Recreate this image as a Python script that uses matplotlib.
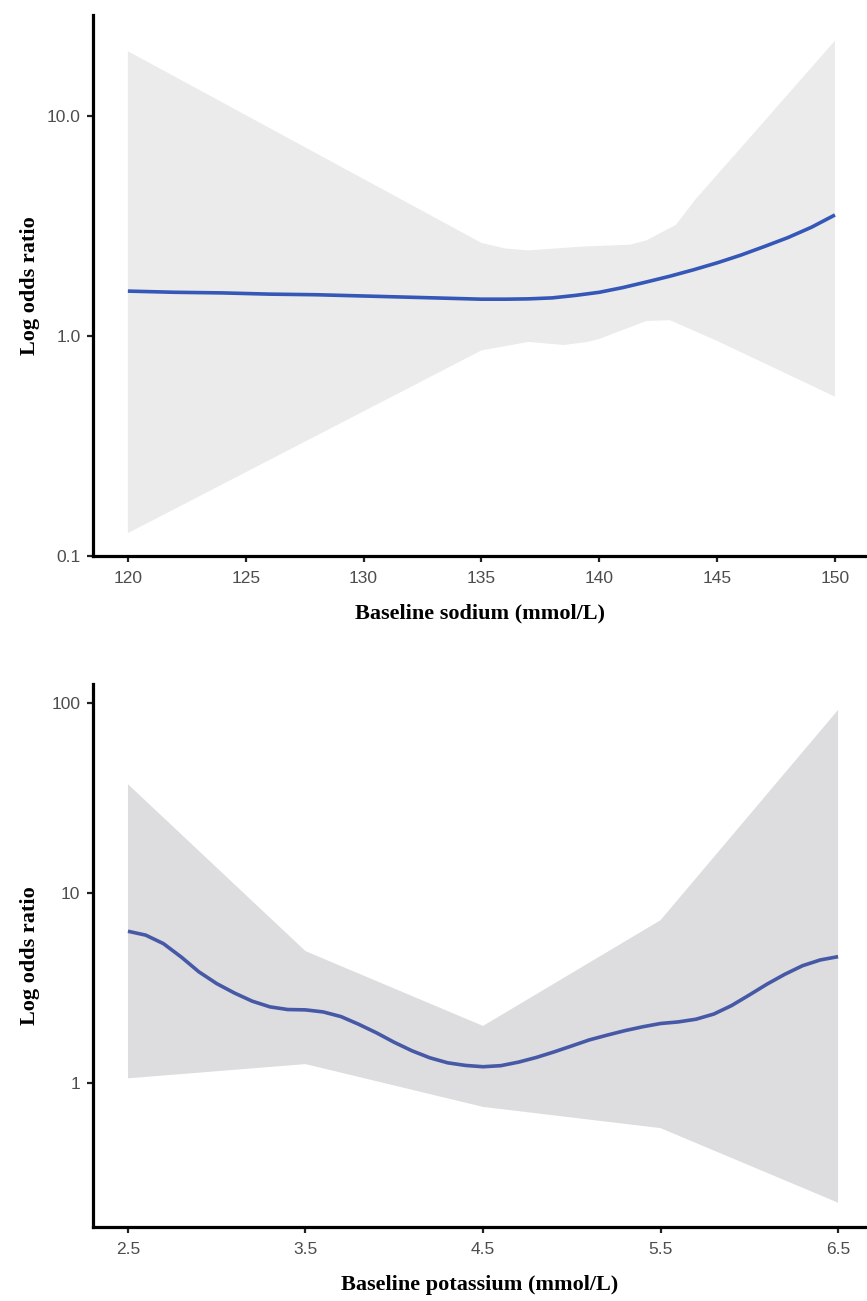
import numpy as np
import matplotlib
matplotlib.use("Agg")
import matplotlib.pyplot as plt
from matplotlib.ticker import FixedLocator, FixedFormatter, NullLocator

# ---------------- Sodium panel data ----------------
sodium_x = [120, 121, 122, 123, 124, 125, 126, 127, 128, 129, 130,
            131, 132, 133, 134, 135, 136, 137, 138, 139, 140,
            141, 142, 143, 144, 145, 146, 147, 148, 149, 150]
sodium_or = [1.60, 1.59, 1.58, 1.575, 1.57, 1.56, 1.55, 1.545, 1.54, 1.53, 1.52,
             1.51, 1.50, 1.49, 1.48, 1.47, 1.47, 1.475, 1.49, 1.53, 1.58,
             1.66, 1.76, 1.87, 2.00, 2.15, 2.33, 2.55, 2.80, 3.12, 3.55]
sodium_upper_x = [120, 135, 136, 137, 139.3, 141.3, 142, 143.25, 144.1, 146.9, 150]
sodium_upper = [19.7, 2.65, 2.5, 2.45, 2.55, 2.6, 2.72, 3.2, 4.2, 9.2, 22.0]
sodium_lower_x = [120, 135, 137, 138.5, 139.5, 140, 142, 143, 145, 150]
sodium_lower = [0.127, 0.86, 0.94, 0.91, 0.94, 0.97, 1.17, 1.18, 0.95, 0.53]
sodium_ticks = [120, 125, 130, 135, 140, 145, 150]
sodium_tick_labels = ["120", "125", "130", "135", "140", "145", "150"]
sodium_yticks = [0.1, 1.0, 10.0]
sodium_ytick_labels = ["0.1", "1.0", "10.0"]

# ---------------- Potassium panel data ----------------
potassium_x = [2.5, 2.6, 2.7, 2.8, 2.9, 3.0, 3.1, 3.2, 3.3, 3.4, 3.5,
               3.6, 3.7, 3.8, 3.9, 4.0, 4.1, 4.2, 4.3, 4.4, 4.5,
               4.6, 4.7, 4.8, 4.9, 5.0, 5.1, 5.2, 5.3, 5.4, 5.5,
               5.6, 5.7, 5.8, 5.9, 6.0, 6.1, 6.2, 6.3, 6.4, 6.5]
potassium_or = [6.30, 6.01, 5.42, 4.61, 3.85, 3.34, 2.98, 2.70, 2.52, 2.44, 2.43,
                2.37, 2.24, 2.04, 1.84, 1.64, 1.48, 1.36, 1.28, 1.24, 1.22,
                1.236, 1.29, 1.365, 1.46, 1.57, 1.69, 1.79, 1.89, 1.98, 2.06,
                2.10, 2.17, 2.31, 2.56, 2.91, 3.32, 3.74, 4.15, 4.45, 4.63]
potassium_band_x = [2.5, 3.5, 4.5, 5.5, 6.5]
potassium_upper = [37.4, 4.95, 2.0, 7.2, 92.0]
potassium_lower = [1.06, 1.26, 0.75, 0.58, 0.235]
potassium_ticks = [2.5, 3.5, 4.5, 5.5, 6.5]
potassium_tick_labels = ["2.5", "3.5", "4.5", "5.5", "6.5"]
potassium_yticks = [1, 10, 100]
potassium_ytick_labels = ["1", "10", "100"]

W, H = 867, 1301
fig = plt.figure(figsize=(W / 100, H / 100), dpi=100)

def frac_box(left_px, top_px, right_px, bottom_px):
    return [left_px / W, 1 - bottom_px / H, (right_px - left_px) / W, (bottom_px - top_px) / H]

tick_family = ["Liberation Sans", "DejaVu Sans"]
label_font = dict(family=["Liberation Serif", "DejaVu Serif"], weight="bold", size=16)

def style(ax, xticks, xticklabels, xlabel, yticks, ylabels, labely):
    ax.set_yscale("log")
    for s in ("top", "right"):
        ax.spines[s].set_visible(False)
    for s in ("left", "bottom"):
        ax.spines[s].set_linewidth(2.3)
        ax.spines[s].set_color("black")
    ax.xaxis.set_major_locator(FixedLocator(xticks))
    ax.xaxis.set_major_formatter(FixedFormatter(xticklabels))
    ax.yaxis.set_major_locator(FixedLocator(yticks))
    ax.yaxis.set_major_formatter(FixedFormatter(ylabels))
    ax.yaxis.set_minor_locator(NullLocator())
    ax.xaxis.set_minor_locator(NullLocator())
    ax.tick_params(axis="both", direction="out", length=4, width=1.6, color="#222222",
                   labelcolor="#4d4d4d", labelsize=12.5)
    ax.tick_params(axis="x", pad=7)
    ax.tick_params(axis="y", pad=5)
    for lab in ax.get_xticklabels() + ax.get_yticklabels():
        lab.set_fontfamily(tick_family)
    ax.set_xlabel(xlabel, **label_font)
    ax.set_ylabel("Log odds ratio", **label_font)
    ax.xaxis.set_label_coords(0.5, labely)
    ax.yaxis.set_label_coords(-0.068, 0.5)
    ax.set_facecolor("white")

# Top panel: sodium
ax1 = fig.add_axes(frac_box(93, 14.6, 867, 556))
ax1.fill(np.concatenate([sodium_upper_x, sodium_lower_x[::-1]]),
         np.concatenate([sodium_upper, sodium_lower[::-1]]),
         color="#ebebeb", lw=0, zorder=1)
ax1.plot(sodium_x, sodium_or, color="#3557b7", lw=2.6, zorder=2,
         solid_capstyle="butt", solid_joinstyle="round")
ax1.set_xlim(118.52, 151.36)
ax1.set_ylim(0.1, 28.9)
style(ax1, sodium_ticks, sodium_tick_labels, "Baseline sodium (mmol/L)",
      sodium_yticks, sodium_ytick_labels, -0.088)

# Bottom panel: potassium
ax2 = fig.add_axes(frac_box(93, 684, 867, 1227))
ax2.fill(np.concatenate([potassium_band_x, potassium_band_x[::-1]]),
         np.concatenate([potassium_upper, potassium_lower[::-1]]),
         color="#dddcde", lw=0, zorder=1)
ax2.plot(potassium_x, potassium_or, color="#4659a6", lw=2.6, zorder=2,
         solid_capstyle="butt", solid_joinstyle="round")
ax2.set_xlim(2.303, 6.663)
ax2.set_ylim(0.175, 126)
style(ax2, potassium_ticks, potassium_tick_labels, "Baseline potassium (mmol/L)",
      potassium_yticks, potassium_ytick_labels, -0.088)

fig.savefig("out.png", dpi=100, facecolor="white")
